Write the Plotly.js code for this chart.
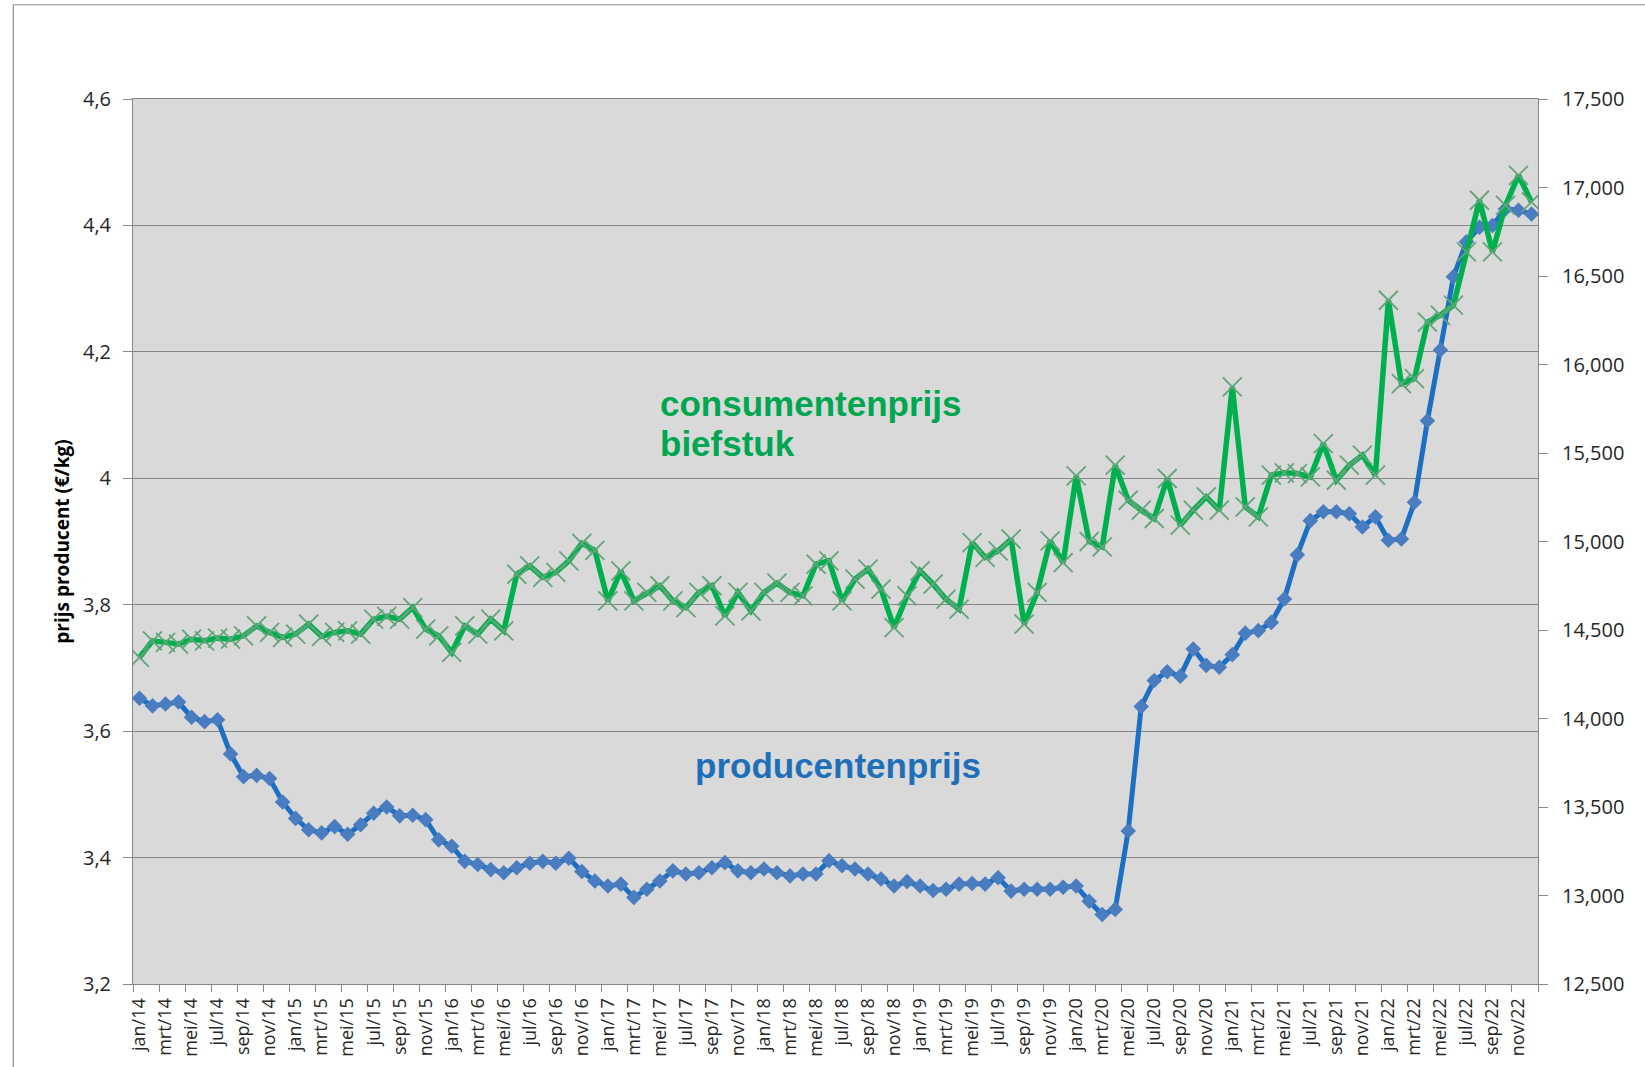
<!DOCTYPE html>
<html>
<head>
<meta charset="utf-8">
<script src="https://cdn.plot.ly/plotly-3.0.1.min.js"></script>
<style>
  html, body { margin: 0; padding: 0; background: #fff; }
  #chart { width: 1645px; height: 1067px; }
</style>
</head>
<body>
<div id="chart"></div>
<script>
// Monthly prices jan/14 .. dec/22 (108 months).
const MONTH_NAMES = ["jan", "feb", "mrt", "apr", "mei", "jun", "jul", "aug", "sep", "okt", "nov", "dec"];
const YEARS = ["14", "15", "16", "17", "18", "19", "20", "21", "22"];

// producentenprijs (€/kg), left axis
const producerPrice = [
  3.652, 3.640, 3.643, 3.646, 3.622, 3.615, 3.618, 3.564, 3.528, 3.530, 3.525, 3.488,
  3.462, 3.444, 3.439, 3.449, 3.437, 3.452, 3.470, 3.480, 3.466, 3.467, 3.460, 3.428,
  3.418, 3.394, 3.389, 3.381, 3.376, 3.384, 3.391, 3.394, 3.391, 3.399, 3.378, 3.363,
  3.355, 3.358, 3.337, 3.350, 3.363, 3.379, 3.374, 3.376, 3.384, 3.392, 3.379, 3.376,
  3.382, 3.376, 3.371, 3.374, 3.374, 3.395, 3.387, 3.382, 3.374, 3.366, 3.355, 3.362,
  3.355, 3.348, 3.350, 3.358, 3.359, 3.358, 3.368, 3.347, 3.350, 3.350, 3.350, 3.353,
  3.355, 3.331, 3.310, 3.318, 3.442, 3.639, 3.680, 3.694, 3.687, 3.730, 3.704, 3.701,
  3.721, 3.755, 3.759, 3.772, 3.809, 3.879, 3.933, 3.947, 3.947, 3.944, 3.923, 3.939,
  3.902, 3.904, 3.962, 4.091, 4.203, 4.319, 4.374, 4.397, 4.400, 4.426, 4.424, 4.418
];

// consumentenprijs biefstuk, right axis
const consumerPrice = [
  14.345, 14.439, 14.430, 14.420, 14.448, 14.439, 14.454, 14.448, 14.467, 14.523, 14.486, 14.458,
  14.477, 14.533, 14.464, 14.486, 14.495, 14.477, 14.561, 14.577, 14.561, 14.627, 14.505, 14.467,
  14.373, 14.523, 14.477, 14.561, 14.495, 14.815, 14.862, 14.797, 14.825, 14.891, 14.990, 14.950,
  14.665, 14.834, 14.665, 14.712, 14.750, 14.665, 14.627, 14.712, 14.750, 14.580, 14.712, 14.608,
  14.712, 14.765, 14.712, 14.693, 14.872, 14.891, 14.665, 14.787, 14.844, 14.731, 14.514, 14.693,
  14.834, 14.759, 14.674, 14.618, 14.994, 14.910, 14.947, 15.013, 14.533, 14.712, 15.004, 14.881,
  15.371, 15.000, 14.970, 15.431, 15.233, 15.177, 15.130, 15.356, 15.092, 15.177, 15.252, 15.177,
  15.873, 15.196, 15.139, 15.375, 15.388, 15.384, 15.365, 15.553, 15.346, 15.431, 15.488, 15.375,
  16.363, 15.892, 15.920, 16.240, 16.278, 16.335, 16.636, 16.928, 16.636, 16.899, 17.069, 16.918
];

const monthLabels = [];
for (const y of YEARS) for (const m of MONTH_NAMES) monthLabels.push(`${m}/${y}`);
const idx = monthLabels.map((_, i) => i);
// every other month gets a label (jan, mrt, mei, ...)
const tickIdx = idx.filter((i) => i % 2 === 0);
const tickText = tickIdx.map((i) => monthLabels[i]);

const GRID = "#878787";
const TEXT = "#262626";
const FONT = "'Open Sans', 'DejaVu Sans', sans-serif";

const traces = [
  {
    x: idx, y: producerPrice, type: "scatter", mode: "lines+markers", name: "producentenprijs",
    yaxis: "y",
    line: { color: "#1C6FC2", width: 5 },
    marker: { symbol: "diamond", size: 12, color: "#4A7DC0", line: { width: 0 } },
  },
  {
    x: idx, y: consumerPrice, type: "scatter", mode: "lines+markers", name: "consumentenprijs biefstuk",
    yaxis: "y2",
    line: { color: "#00B04F", width: 5.5 },
    marker: { symbol: "x-thin", size: 19, color: "#64A47A", line: { color: "#64A47A", width: 1.8 } },
  },
];

const layout = {
  width: 1645, height: 1067,
  margin: { l: 133, r: 107, t: 99, b: 83 },
  paper_bgcolor: "#ffffff",
  plot_bgcolor: "#D9D9D9",
  separators: ",.",
  showlegend: false,
  font: { family: FONT, color: TEXT, size: 20 },
  xaxis: {
    range: [-0.5, 107.5],
    tickmode: "array", tickvals: tickIdx, ticktext: tickText,
    tickangle: -90,
    tickfont: { family: FONT, size: 18, color: TEXT },
    ticks: "", ticklabelstandoff: 6,
    minor: { tickmode: "linear", tick0: -0.5, dtick: 2, ticks: "outside", ticklen: 7, tickcolor: GRID, tickwidth: 1, showgrid: false },
    showgrid: false, zeroline: false,
    showline: true, linecolor: GRID, linewidth: 1, mirror: true,
    fixedrange: true,
  },
  yaxis: {
    range: [3.2, 4.6], dtick: 0.2, tick0: 3.2,
    title: { text: "<b>prijs producent (€/kg)</b>", font: { family: "'Open Sans', sans-serif", size: 19, color: "#000" }, standoff: 8 },
    tickfont: { family: FONT, size: 20, color: TEXT },
    ticks: "outside", ticklen: 9, tickcolor: GRID, ticklabelstandoff: 8,
    showgrid: true, gridcolor: GRID, gridwidth: 1, zeroline: false,
    showline: true, linecolor: GRID, linewidth: 1, mirror: true,
  },
  yaxis2: {
    range: [12.5, 17.5], dtick: 0.5, tick0: 12.5,
    overlaying: "y", side: "right",
    tickformat: ".3f",
    tickfont: { family: FONT, size: 20, color: TEXT },
    ticks: "outside", ticklen: 9, tickcolor: GRID, ticklabelstandoff: 10,
    showgrid: false, zeroline: false,
    showline: true, linecolor: GRID, linewidth: 1,
  },
  shapes: [
    // outer chart border (only left and top are inside the cropped picture)
    { type: "rect", xref: "paper", yref: "paper", x0: -0.0852, x1: 1.1, y0: -0.12, y1: 1.1065,
      line: { color: "#8C8C8C", width: 1.2 }, fillcolor: "rgba(0,0,0,0)", layer: "above" },
  ],
  annotations: [
    { text: "<b>consumentenprijs</b>", xref: "paper", yref: "paper", x: 0.3737, y: 0.6562,
      xanchor: "left", yanchor: "middle", showarrow: false,
      font: { family: "'Liberation Sans', Arial, sans-serif", size: 35, color: "#00A650" } },
    { text: "<b>biefstuk</b>", xref: "paper", yref: "paper", x: 0.3737, y: 0.611,
      xanchor: "left", yanchor: "middle", showarrow: false,
      font: { family: "'Liberation Sans', Arial, sans-serif", size: 35, color: "#00A650" } },
    { text: "<b>producentenprijs</b>", xref: "paper", yref: "paper", x: 0.3986, y: 0.2473,
      xanchor: "left", yanchor: "middle", showarrow: false,
      font: { family: "'Liberation Sans', Arial, sans-serif", size: 35, color: "#1F6FB8" } },
  ],
};

Plotly.newPlot("chart", traces, layout, { displayModeBar: false, staticPlot: true });
</script>
</body>
</html>
